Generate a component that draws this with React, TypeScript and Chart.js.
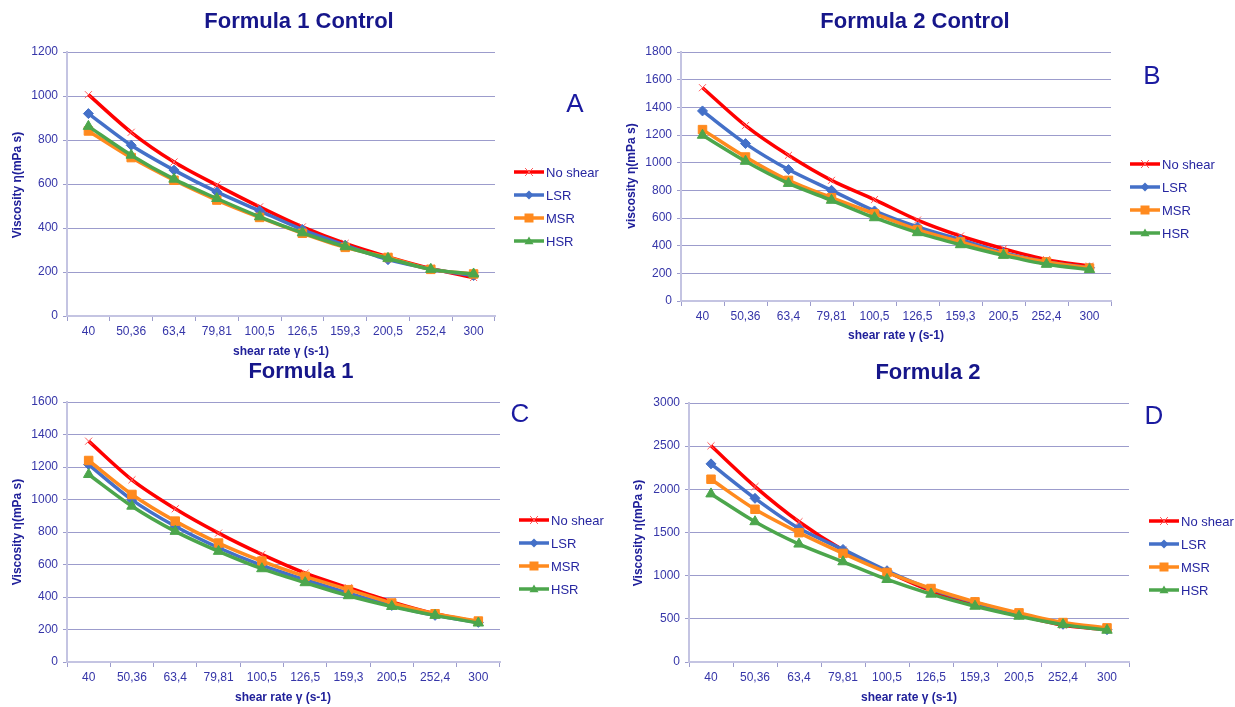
import React, { useEffect, useRef } from "react";
import { Chart, registerables } from "chart.js";

Chart.register(...registerables);

const categories = ["40", "50,36", "63,4", "79,81", "100,5", "126,5", "159,3", "200,5", "252,4", "300"];
const seriesNames = ["No shear", "LSR", "MSR", "HSR"];

// Panel A – Formula 1 Control
const aNoShear = [1006, 835, 700, 595, 496, 405, 330, 269, 216, 175];
const aLSR = [920, 776, 663, 564, 478, 393, 322, 256, 214, 184];
const aMSR = [841, 720, 617, 527, 448, 376, 312, 266, 212, 191];
const aHSR = [862, 731, 622, 534, 451, 378, 315, 262, 212, 191];

// Panel B – Formula 2 Control
const bNoShear = [1542, 1268, 1053, 872, 733, 585, 470, 378, 299, 252];
const bLSR = [1374, 1138, 950, 800, 651, 535, 443, 349, 282, 240];
const bMSR = [1239, 1041, 872, 747, 631, 516, 427, 342, 282, 238];
const bHSR = [1198, 1010, 850, 728, 602, 494, 407, 330, 265, 227];

// Panel C – Formula 1
const cNoShear = [1359, 1121, 943, 793, 662, 547, 457, 370, 297, 246];
const cLSR = [1215, 998, 835, 703, 594, 506, 424, 348, 287, 244];
const cMSR = [1240, 1031, 867, 732, 621, 527, 445, 363, 297, 252];
const cHSR = [1154, 959, 804, 681, 574, 488, 408, 342, 287, 240];

// Panel D – Formula 2
const dNoShear = [2504, 2032, 1625, 1296, 1045, 824, 677, 542, 426, 375];
const dLSR = [2295, 1896, 1548, 1304, 1057, 844, 689, 553, 437, 375];
const dMSR = [2117, 1769, 1498, 1258, 1037, 851, 697, 569, 457, 395];
const dHSR = [1947, 1625, 1366, 1161, 956, 786, 646, 530, 433, 368];

const yMaxes = [1200, 1800, 1600, 3000];
const ySteps = [200, 200, 200, 500];
const titles = ["Formula 1 Control", "Formula 2 Control", "Formula 1", "Formula 2"];
const letters = ["A", "B", "C", "D"];
const yTitles = ["Viscosity η(mPa s)", "viscosity η(mPa s)", "Viscosity η(mPa s)", "Viscosity η(mPa s)"];
const xTitle = "shear rate γ (s-1)";

const W = 1235;
const H = 707;

const colors = ["#FF0000", "#4470C8", "#FF8A1E", "#4CA64C"];
const markers = ["crossRot", "rectRot", "rect", "triangle"];
const markerRadius = [5, 5, 6, 6];

const panels = [
  {
    data: [aNoShear, aLSR, aMSR, aHSR],
    area: { left: 67, right: 495, top: 52, bottom: 316 },
    title: { x: 299, y: 22 },
    letter: { x: 575, y: 105 },
    xt: { x: 281, y: 352 },
    yt: { x: 18, y: 185 },
    legend: { x: 514, y: 172 },
  },
  {
    data: [bNoShear, bLSR, bMSR, bHSR],
    area: { left: 681, right: 1111, top: 52, bottom: 301 },
    title: { x: 915, y: 22 },
    letter: { x: 1152, y: 77 },
    xt: { x: 896, y: 336 },
    yt: { x: 632, y: 176 },
    legend: { x: 1130, y: 164 },
  },
  {
    data: [cNoShear, cLSR, cMSR, cHSR],
    area: { left: 67, right: 500, top: 402, bottom: 662 },
    title: { x: 301, y: 372 },
    letter: { x: 520, y: 415 },
    xt: { x: 283, y: 698 },
    yt: { x: 18, y: 532 },
    legend: { x: 519, y: 520 },
  },
  {
    data: [dNoShear, dLSR, dMSR, dHSR],
    area: { left: 689, right: 1129, top: 403, bottom: 662 },
    title: { x: 928, y: 373 },
    letter: { x: 1154, y: 417 },
    xt: { x: 909, y: 698 },
    yt: { x: 639, y: 533 },
    legend: { x: 1149, y: 521 },
  },
];

const FONT = "'Liberation Sans', Arial, sans-serif";
const tickColor = "#3535a8";
const gridColor = "#9c9ccc";
const axisColor = "#c4c4e2";

function makeDecor(idx: number) {
  const p = panels[idx];
  return {
    id: "decor" + idx,
    afterDraw(chart: any) {
      const ctx = chart.ctx;
      ctx.save();
      // Title
      ctx.fillStyle = "#16168a";
      ctx.font = "bold 22px " + FONT;
      ctx.textAlign = "center";
      ctx.textBaseline = "middle";
      ctx.fillText(titles[idx], p.title.x, p.title.y);
      // Letter
      ctx.fillStyle = "#1a1aa0";
      ctx.font = "26px " + FONT;
      ctx.fillText(letters[idx], p.letter.x, p.letter.y);
      // X title
      ctx.fillStyle = "#20209a";
      ctx.font = "bold 12px " + FONT;
      ctx.fillText(xTitle, p.xt.x, p.xt.y);
      // Y title
      ctx.save();
      ctx.translate(p.yt.x, p.yt.y);
      ctx.rotate(-Math.PI / 2);
      ctx.fillText(yTitles[idx], 0, 0);
      ctx.restore();
      // Legend lines, markers and labels
      chart.data.datasets.forEach((ds: any, i: number) => {
        const y = p.legend.y + i * 23;
        const x0 = p.legend.x;
        const x1 = x0 + 30;
        const cx = x0 + 15;
        ctx.strokeStyle = ds.borderColor;
        ctx.lineWidth = 3.5;
        ctx.beginPath();
        ctx.moveTo(x0, y);
        ctx.lineTo(x1, y);
        ctx.stroke();
        ctx.save();
        ctx.strokeStyle = ds.pointBorderColor;
        ctx.fillStyle = ds.pointBackgroundColor;
        ctx.lineWidth = 1;
        const r = i === 0 ? 5 : 4.5;
        ctx.beginPath();
        if (ds.pointStyle === "crossRot") {
          ctx.moveTo(cx - r * 0.8, y - r * 0.8);
          ctx.lineTo(cx + r * 0.8, y + r * 0.8);
          ctx.moveTo(cx + r * 0.8, y - r * 0.8);
          ctx.lineTo(cx - r * 0.8, y + r * 0.8);
          ctx.stroke();
        } else if (ds.pointStyle === "rectRot") {
          ctx.moveTo(cx, y - r);
          ctx.lineTo(cx + r, y);
          ctx.lineTo(cx, y + r);
          ctx.lineTo(cx - r, y);
          ctx.closePath();
          ctx.fill();
        } else if (ds.pointStyle === "rect") {
          ctx.rect(cx - r, y - r, r * 2, r * 2);
          ctx.fill();
        } else {
          ctx.moveTo(cx, y - r);
          ctx.lineTo(cx + r, y + r * 0.7);
          ctx.lineTo(cx - r, y + r * 0.7);
          ctx.closePath();
          ctx.fill();
        }
        ctx.restore();
        ctx.fillStyle = "#2626a0";
        ctx.font = "13px " + FONT;
        ctx.textAlign = "left";
        ctx.fillText(ds.label, x1 + 2, y + 1);
      });
      ctx.restore();
    },
  };
}

function Panel({ idx }: { idx: number }) {
  const ref = useRef<HTMLCanvasElement>(null);
  useEffect(() => {
    const p = panels[idx];
    const a = p.area;
    const chart = new Chart(ref.current as HTMLCanvasElement, {
      type: "line",
      data: {
        labels: categories,
        datasets: p.data.map((vals, i) => ({
          label: seriesNames[i],
          data: vals,
          borderColor: colors[i],
          backgroundColor: colors[i],
          borderWidth: 3.5,
          tension: 0.3,
          pointStyle: markers[i] as any,
          pointRadius: markerRadius[i],
          pointBorderColor: i === 0 ? "#ff5a5a" : colors[i],
          pointBackgroundColor: colors[i],
          pointBorderWidth: 1,
          order: 3 - i,
          fill: false,
        })),
      },
      options: {
        animation: false,
        responsive: false,
        devicePixelRatio: 1,
        layout: { padding: { left: 0, top: a.top, right: W - a.right, bottom: 0 } },
        plugins: {
          legend: { display: false },
          title: { display: false },
          tooltip: { enabled: false },
        },
        scales: {
          x: {
            type: "category",
            offset: true,
            grid: {
              offset: true,
              drawOnChartArea: false,
              drawTicks: true,
              tickLength: 5,
              color: gridColor,
            },
            border: { color: axisColor, width: 2 },
            ticks: {
              color: tickColor,
              font: { family: FONT, size: 12 },
              padding: 3,
              maxRotation: 0,
              autoSkip: false,
            },
            afterFit: (s: any) => {
              s.height = H - a.bottom;
            },
          },
          y: {
            min: 0,
            max: yMaxes[idx],
            ticks: {
              stepSize: ySteps[idx],
              color: tickColor,
              font: { family: FONT, size: 12 },
              padding: 5,
              callback: (v: any) => String(v),
            },
            grid: { color: gridColor, tickLength: 4, lineWidth: 1 },
            border: { color: axisColor, width: 2 },
            afterFit: (s: any) => {
              s.width = a.left;
            },
          },
        },
      },
      plugins: [makeDecor(idx)],
    } as any);
    return () => chart.destroy();
  }, [idx]);
  return (
    <canvas
      ref={ref}
      width={W}
      height={H}
      style={{ position: "absolute", left: 0, top: 0, width: W, height: H }}
    />
  );
}

export default function App() {
  return (
    <div style={{ position: "absolute", left: 0, top: 0, width: W, height: H, background: "#ffffff" }}>
      {[0, 1, 2, 3].map((i) => (
        <Panel key={i} idx={i} />
      ))}
    </div>
  );
}
